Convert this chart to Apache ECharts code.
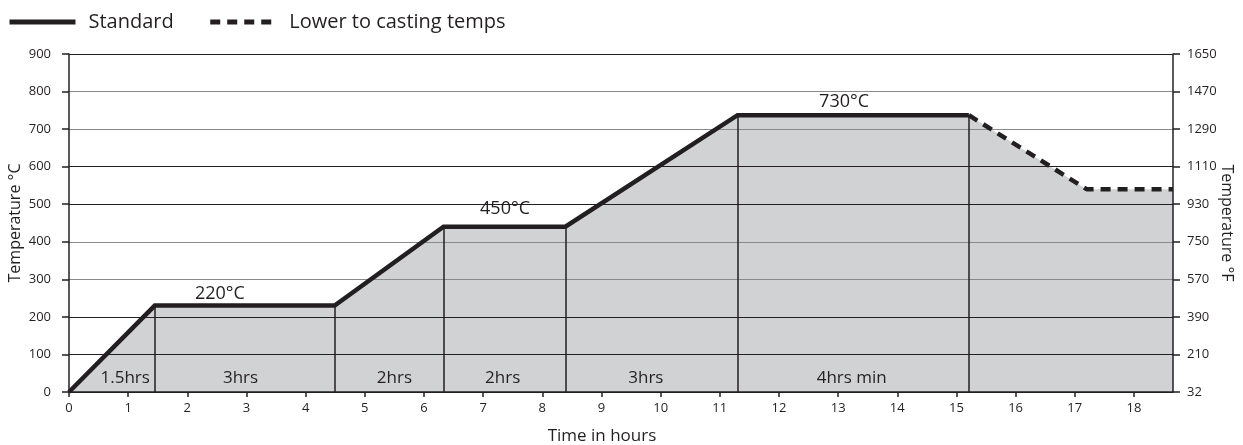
<!DOCTYPE html>
<html>
<head>
<meta charset="utf-8">
<script src="https://cdn.jsdelivr.net/npm/echarts@6/dist/echarts.min.js"></script>
<style>
  html, body { margin: 0; padding: 0; background: #fff; }
  #chart { width: 1243px; height: 445px; }
</style>
</head>
<body>
<div id="chart"></div>
<script>
// standard firing curve (hours, °C)
const stdHours = [0, 1.45, 4.49, 6.33, 8.39, 11.3, 15.21];
const stdTemps = [0, 230, 230, 440, 440, 737, 737];
// lower to casting temps
const lowerHours = [15.21, 17.2, 18.66];
const lowerTemps = [737, 540, 540];
// stage labels along the bottom
const stageNames = ['1.5hrs', '3hrs', '2hrs', '2hrs', '3hrs', '4hrs min'];
const stageLabelHours = [0.95, 2.9, 5.5, 7.33, 9.75, 13.23];
const stageLabelTemp = 37;
// hold temperature labels
const holdNames = ['220°C', '450°C', '730°C'];
const holdLabelHours = [2.55, 7.37, 13.1];
const holdLabelTemps = [261, 487, 773];
// right axis tick labels
const fahrenheitTicks = ['32', '210', '390', '570', '750', '930', '1110', '1290', '1470', '1650'];

const INK = '#231f20';
const FONT = 'Open Sans';

const stdData = stdHours.map((h, i) => [h, stdTemps[i]]);
const lowerData = lowerHours.map((h, i) => [h, lowerTemps[i]]);
const areaData = stdData.concat(lowerData.slice(1));

// vertical dividers from the baseline up to the curve
const dividers = stdData.slice(1).map(p => [
  { coord: [p[0], 0] },
  { coord: [p[0], p[1]] }
]);

const stageData = stageNames.map((n, i) => [stageLabelHours[i], stageLabelTemp, n]);
const holdData = holdNames.map((n, i) => [holdLabelHours[i], holdLabelTemps[i], n]);

const dark = INK, grey = '#8a8a8a';

const chart = echarts.init(document.getElementById('chart'));
chart.setOption({
  animation: false,
  textStyle: { fontFamily: FONT, color: INK },
  legend: {
    left: 2,
    top: 7,
    itemWidth: 66,
    itemHeight: 14,
    itemGap: 34,
    itemStyle: { opacity: 0 },
    lineStyle: { width: 5 },
    textStyle: { fontFamily: FONT, fontSize: 20, color: INK, padding: [0, 0, 0, 8] },
    data: ['Standard', 'Lower to casting temps']
  },
  grid: { left: 69, right: 70, top: 54, bottom: 53, outerBoundsMode: 'none' },
  xAxis: {
    type: 'value',
    min: 0,
    max: 18.66,
    interval: 1,
    z: 3,
    name: 'Time in hours',
    nameLocation: 'middle',
    nameGap: 36,
    nameTextStyle: { fontFamily: FONT, fontSize: 17, color: INK, padding: [0, 38, 0, 0] },
    axisLine: { lineStyle: { color: INK, width: 1.5 } },
    axisTick: { length: 5, lineStyle: { color: INK, width: 1.5 } },
    axisLabel: { showMaxLabel: false, fontFamily: FONT, fontSize: 13, color: INK, margin: 10 },
    splitLine: { show: false }
  },
  yAxis: [
    {
      type: 'value',
      min: 0,
      max: 900,
      interval: 100,
      z: 3,
      name: 'Temperature °C',
      nameLocation: 'middle',
      nameRotate: 90,
      nameGap: 46,
      nameMoveOverlap: false,
      nameTextStyle: { fontFamily: FONT, fontSize: 16, color: INK },
      axisLine: { show: true, lineStyle: { color: INK, width: 1.5 } },
      axisTick: { show: true, length: 7, lineStyle: { color: INK, width: 1.5 } },
      axisLabel: { fontFamily: FONT, fontSize: 13, color: INK, margin: 18 },
      splitLine: {
        lineStyle: {
          width: 1,
          color: [dark, dark, dark, grey, grey, dark, dark, grey, grey, dark]
        }
      }
    },
    {
      type: 'value',
      position: 'right',
      min: 0,
      max: 900,
      interval: 100,
      z: 3,
      name: 'Temperature °F',
      nameLocation: 'middle',
      nameRotate: -90,
      nameGap: 46,
      nameMoveOverlap: false,
      nameTextStyle: { fontFamily: FONT, fontSize: 16, color: INK },
      axisLine: { show: true, lineStyle: { color: INK, width: 1.5 } },
      axisTick: { show: true, length: 7, lineStyle: { color: INK, width: 1.5 } },
      axisLabel: {
        fontFamily: FONT, fontSize: 13, color: INK, margin: 14,
        formatter: v => fahrenheitTicks[Math.round(v / 100)]
      },
      splitLine: { show: false }
    }
  ],
  series: [
    {
      name: 'area',
      type: 'line',
      z: 1,
      silent: true,
      symbol: 'none',
      data: areaData,
      lineStyle: { width: 0 },
      areaStyle: { color: '#d1d2d4', opacity: 1 },
      markLine: {
        silent: true,
        symbol: 'none',
        label: { show: false },
        lineStyle: { color: INK, width: 1.5, type: 'solid' },
        data: dividers
      }
    },
    {
      name: 'Standard',
      type: 'line',
      z: 5,
      symbol: 'none',
      data: stdData,
      itemStyle: { color: INK },
      lineStyle: { color: INK, width: 4.5, join: 'miter' }
    },
    {
      name: 'Lower to casting temps',
      type: 'line',
      z: 5,
      symbol: 'none',
      data: lowerData,
      itemStyle: { color: INK },
      lineStyle: { color: INK, width: 4.5, type: [10, 7] }
    },
    {
      name: 'stages',
      type: 'scatter',
      z: 6,
      silent: true,
      symbolSize: 0,
      itemStyle: { opacity: 1, color: INK },
      data: stageData,
      label: {
        show: true, position: 'inside', formatter: p => p.data[2],
        fontFamily: FONT, fontSize: 17, color: INK
      }
    },
    {
      name: 'holds',
      type: 'scatter',
      z: 6,
      silent: true,
      symbolSize: 0,
      itemStyle: { opacity: 1, color: INK },
      data: holdData,
      label: {
        show: true, position: 'inside', formatter: p => p.data[2],
        fontFamily: FONT, fontSize: 18, color: INK
      }
    }
  ]
});
</script>
</body>
</html>
